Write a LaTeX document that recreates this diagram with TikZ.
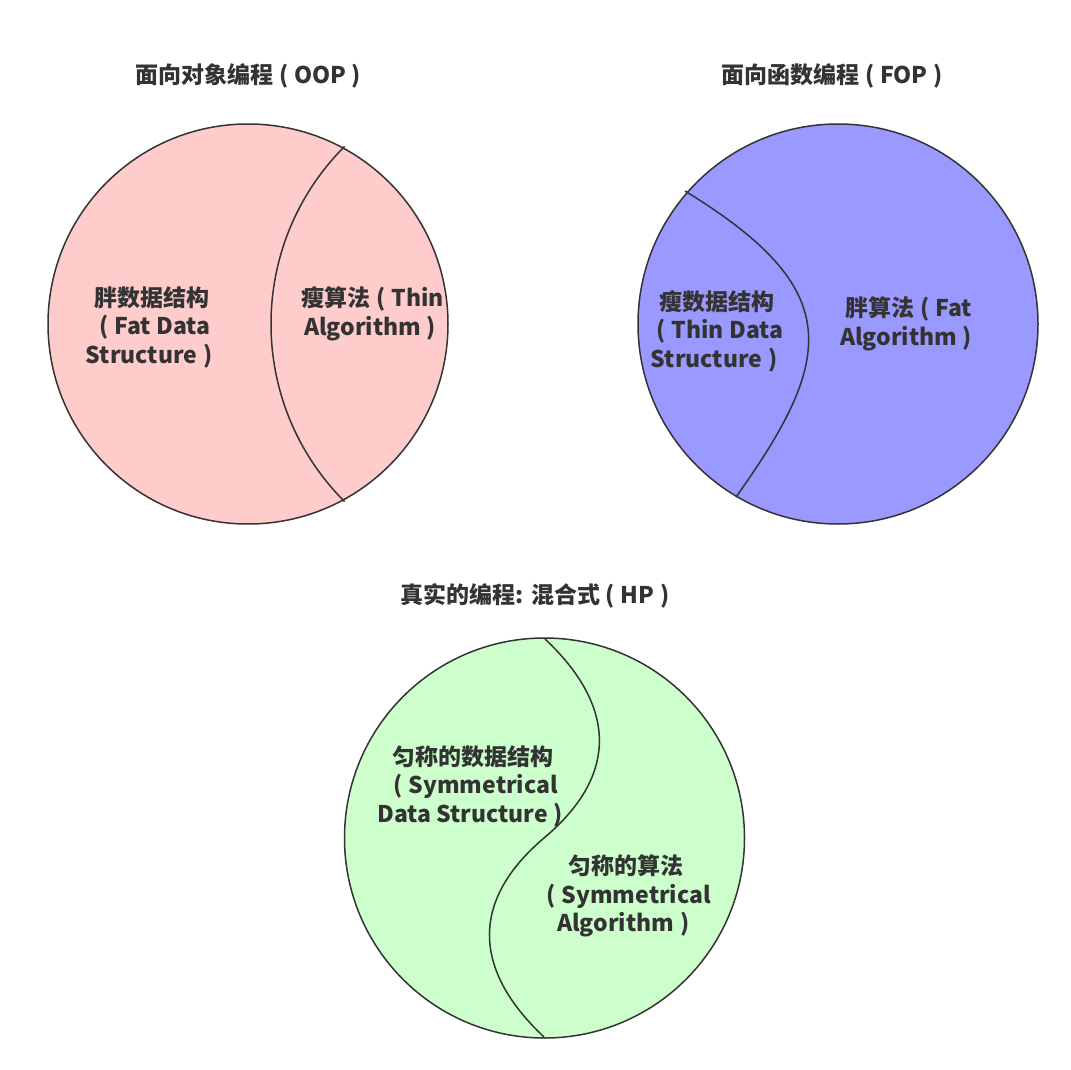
\documentclass[tikz,border=0pt]{standalone}
\usepackage{fontspec}
\newfontfamily\cjk{Noto Sans CJK SC}
\definecolor{ink}{HTML}{333333}
\definecolor{pinkfill}{HTML}{FFCCCC}
\definecolor{bluefill}{HTML}{9999FF}
\definecolor{greenfill}{HTML}{CCFFCC}
\newcommand\lpar{\makebox[0.9em][c]{(}}
\newcommand\rpar{\makebox[0.9em][c]{)}}
\tikzset{
  blob/.style={circle, draw=ink, line width=1.5pt, inner sep=0pt, minimum size=400pt},
  divider/.style={draw=ink, line width=1.5pt},
  label/.style={text=ink, align=center, inner sep=0pt, font=\cjk\bfseries\fontsize{23}{28.5}\selectfont},
}
\begin{document}
\begin{tikzpicture}[x=1pt,y=-1pt]
\useasboundingbox (0,0) rectangle (1071,1070);
\fill[white] (0,0) rectangle (1071,1070);

% OOP
\node[label] (t1) at (251,76) {面向对象编程\lpar OOP\rpar};
\node[blob, fill=pinkfill] (c1) at (248,324) {};
\draw[divider] (344.5,146.5) .. controls (246.5,244.5) and (246.5,403.5) .. (344.5,501.5);
\node[label] (l1) at (152,327) {胖数据结构\\\lpar Fat Data\\Structure\rpar};
\node[label] (r1) at (373,314) {瘦算法\lpar Thin\\Algorithm\rpar};

% FOP
\node[label] (t2) at (835,76) {面向函数编程\lpar FOP\rpar};
\node[blob, fill=bluefill] (c2) at (838,324) {};
\draw[divider] (685,191) .. controls (845,289) and (836,357) .. (736,497);
\node[label] (l2) at (717,331) {瘦数据结构\\\lpar Thin Data\\Structure\rpar};
\node[label] (r2) at (909,324) {胖算法\lpar Fat\\Algorithm\rpar};

% HP
\node[label] (t3) at (538,596) {真实的编程: 混合式\lpar HP\rpar};
\node[blob, fill=greenfill] (c3) at (544.5,838) {};
\draw[divider] (545,639) .. controls (610,700) and (625,770) .. (544,838)
                         .. controls (464,906) and (479,976) .. (544,1037);
\node[label] (l3) at (473,786) {匀称的数据结构\\\lpar Symmetrical\\Data Structure\rpar};
\node[label] (r3) at (626,896) {匀称的算法\\\lpar Symmetrical\\Algorithm\rpar};
\end{tikzpicture}
\end{document}
